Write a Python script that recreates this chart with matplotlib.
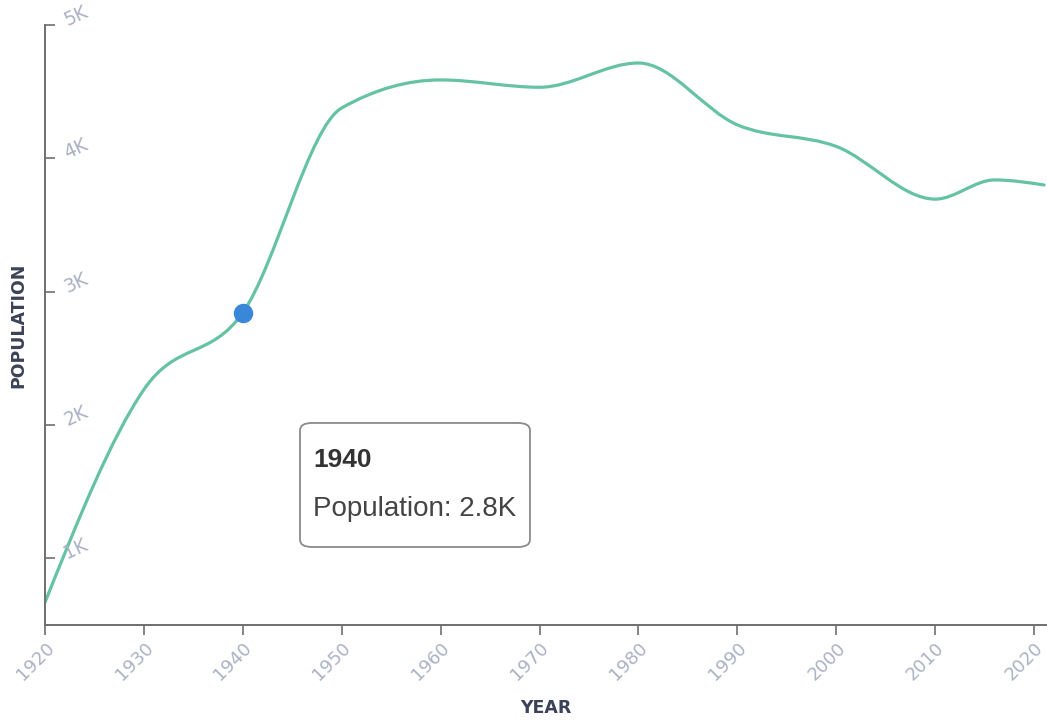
import matplotlib
matplotlib.use("Agg")
import matplotlib.pyplot as plt
import numpy as np
from matplotlib.path import Path
from matplotlib.patches import PathPatch, FancyBboxPatch
from matplotlib.transforms import blended_transform_factory

# values
years = [1920, 1930, 1940, 1950, 1960, 1970, 1980, 1990, 2000, 2010, 2016, 2021]
population = [670, 2266, 2843, 4378, 4588, 4533, 4715, 4251, 4089, 3694, 3838, 3800]
x_ticks = [1920, 1930, 1940, 1950, 1960, 1970, 1980, 1990, 2000, 2010, 2020]
y_ticks = [1000, 2000, 3000, 4000, 5000]
y_tick_labels = ["1K", "2K", "3K", "4K", "5K"]
hover_year = 1940
hover_value = 2843
hover_label = "2.8K"

LINE = "#66c2a5"
TICK_TXT = "#abb2c4"
AXIS = "#6f6f6f"


def monotone_path(xs, ys):
    # same shape as d3 curveMonotoneX, built from cubic bezier pieces
    xs = np.asarray(xs, float)
    ys = np.asarray(ys, float)
    n = len(xs)
    h = np.diff(xs)
    s = np.diff(ys) / h
    t = np.zeros(n)
    for i in range(1, n - 1):
        if s[i - 1] * s[i] > 0:
            p = (s[i - 1] * h[i] + s[i] * h[i - 1]) / (h[i - 1] + h[i])
            t[i] = np.sign(s[i - 1]) * 2 * min(abs(s[i - 1]), abs(s[i]), 0.5 * abs(p))
    t[0] = (3 * s[0] - t[1]) / 2
    t[-1] = (3 * s[-1] - t[-2]) / 2
    verts = [(xs[0], ys[0])]
    codes = [Path.MOVETO]
    for i in range(n - 1):
        dx = h[i] / 3
        verts += [(xs[i] + dx, ys[i] + dx * t[i]),
                  (xs[i + 1] - dx, ys[i + 1] - dx * t[i + 1]),
                  (xs[i + 1], ys[i + 1])]
        codes += [Path.CURVE4] * 3
    return Path(verts, codes)


fig = plt.figure(figsize=(10.47, 7.21), dpi=100)
ax = fig.add_axes([45 / 1047, 1 - 625 / 721, 1002 / 1047, 600 / 721])

ax.add_patch(PathPatch(monotone_path(years, population), fill=False,
                       edgecolor=LINE, lw=2.3, capstyle="round", joinstyle="round"))
ax.plot([hover_year], [hover_value], "o", color="#3a87d9", ms=13, zorder=5)

ax.set_xlim(1920, 2021.3)
ax.set_ylim(500, 5000)

for side in ["top", "right"]:
    ax.spines[side].set_visible(False)
for side in ["left", "bottom"]:
    ax.spines[side].set_color(AXIS)
    ax.spines[side].set_linewidth(1.4)

ax.set_xticks(x_ticks)
ax.set_xticklabels([str(v) for v in x_ticks], rotation=45, ha="right", va="top",
                   rotation_mode="anchor", color=TICK_TXT, fontsize=13)
ax.tick_params(axis="x", direction="out", length=7, width=1.2, color=AXIS, pad=3)

ax.set_yticks(y_ticks)
ax.set_yticklabels([])
ax.tick_params(axis="y", direction="in", length=7, width=1.2, color=AXIS)
tr = blended_transform_factory(ax.transAxes, ax.transData)
for v, lab in zip(y_ticks, y_tick_labels):
    ax.text(0.02, v + 30, lab, transform=tr, rotation=25, rotation_mode="anchor",
            ha="left", va="center", color=TICK_TXT, fontsize=13.5)

fig.text(546 / 1047, 1 - 708 / 721, "YEAR", ha="center", va="center",
         fontsize=12.5, fontweight="bold", color="#3c4257")
fig.text(18 / 1047, 1 - 325 / 721, "POPULATION", ha="center", va="center",
         rotation=90, fontsize=12.5, fontweight="bold", color="#3c4257")

# tooltip
box = FancyBboxPatch((0.2545, 0.13), 0.2295, 0.2067, transform=ax.transAxes,
                     boxstyle="round,pad=0,rounding_size=0.012", facecolor="white",
                     edgecolor="#8a8a8a", lw=1.3, zorder=6)
ax.add_patch(box)
ax.text(0.2675, 0.2633, str(hover_year), transform=ax.transAxes, ha="left",
        va="baseline", fontsize=19, fontweight="bold", color="#333333",
        family="Liberation Sans", zorder=7)
ax.text(0.2675, 0.1817, "Population: " + hover_label, transform=ax.transAxes,
        ha="left", va="baseline", fontsize=20, color="#444444",
        family="Liberation Sans", zorder=7)

fig.savefig("out.png", dpi=100)
